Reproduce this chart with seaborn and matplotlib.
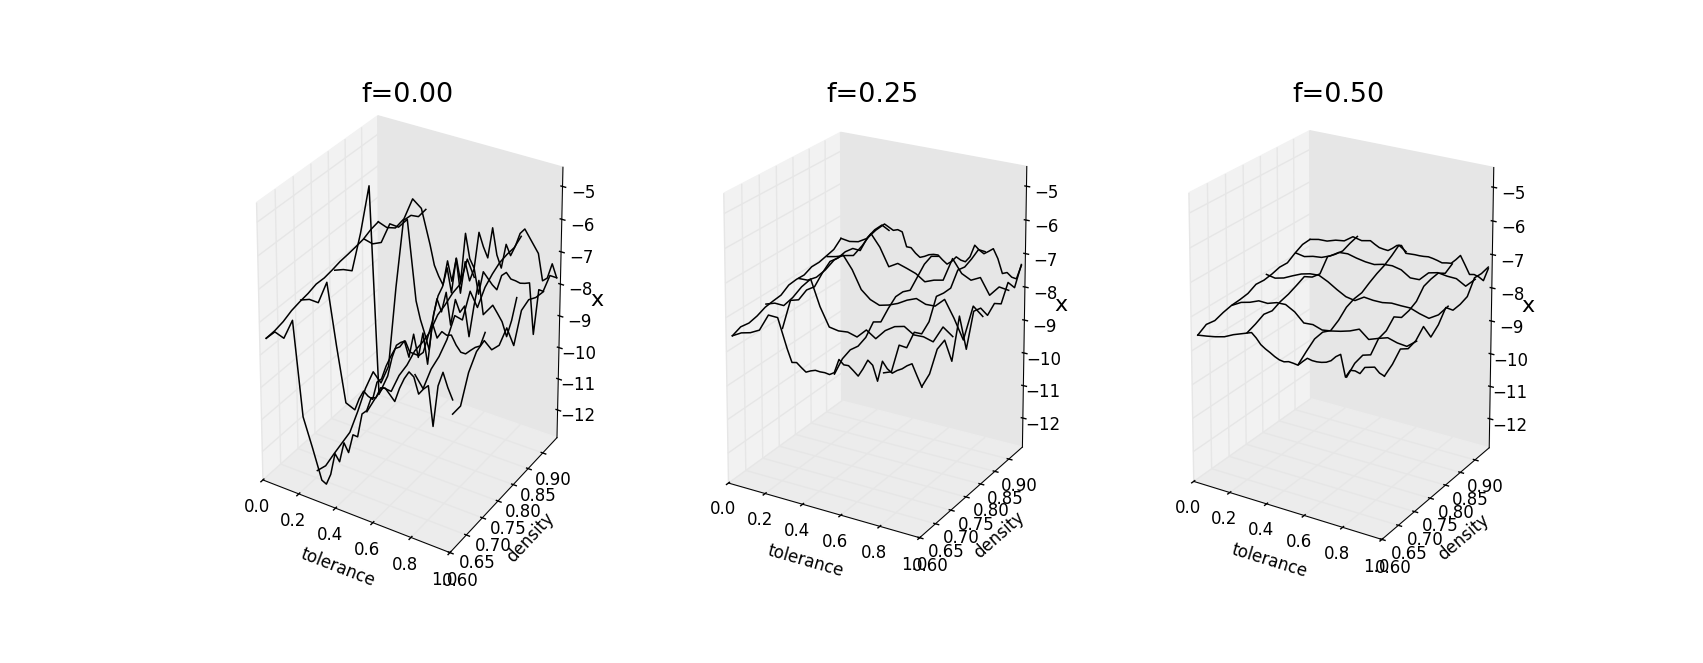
import seaborn as sns
import matplotlib
matplotlib.use("Agg")
import matplotlib.pyplot as plt
from mpl_toolkits.mplot3d import Axes3D

plt.style.use('classic')
sns.set_context("notebook", rc={"font.size": 12, "axes.titlesize": 19.5, "axes.labelsize": 12,
                                "xtick.labelsize": 12, "ytick.labelsize": 12, "lines.linewidth": 1.0})
plt.rcParams['font.family'] = ['DejaVu Sans']
line_color = sns.color_palette(['#000000'])[0]

titles = ['f=0.00', 'f=0.25', 'f=0.50']
elevs = [23.3, 17, 17.5]
azims = [-58.5, -59.8, -58.5]
xticks = [0.0, 0.2, 0.4, 0.6, 0.8, 1.0]
yticks = [0.60, 0.65, 0.70, 0.75, 0.80, 0.85, 0.90]
zticks = [-12, -11, -10, -9, -8, -7, -6, -5]

# wireframe rows and columns
density_rows = [0.6175, 0.715, 0.815, 0.905, 0.95]
tolerance_cols = [0.0, 0.27, 0.54, 0.79, 0.98]
tol_end = 0.98
tol_grid = [0.0, 0.05, 0.1, 0.15, 0.2, 0.25, 0.3, 0.35, 0.4, 0.45, 0.5,
            0.55, 0.6, 0.65, 0.7, 0.75, 0.8, 0.85, 0.9, 0.95, 1.0]
tol_fine = [0.0, 0.05, 0.1, 0.15, 0.2, 0.25, 0.3, 0.325, 0.35, 0.375, 0.4, 0.425, 0.45, 0.475,
            0.5, 0.525, 0.55, 0.575, 0.6, 0.625, 0.65, 0.675, 0.7, 0.725, 0.75, 0.775, 0.8,
            0.825, 0.85, 0.875, 0.9, 0.925, 0.95, 0.975, 1.0]
den_grid = [0.6175, 0.64125, 0.665, 0.68875, 0.7125, 0.73625, 0.76, 0.78375,
            0.8075, 0.83125, 0.855, 0.87875, 0.9025, 0.92625, 0.95]

# f=0.00, one list per density row
rows_f00 = [
    [-8.64, -8.35, -8.45, -7.81, -10.67, -11.53, -12.44, -12.51, -12.15, -11.45, -11.65, -11.01, -11.26,
     -10.66, -10.67, -9.92, -9.77, -9.33, -9.28, -8.93, -8.89, -9.04, -9.19, -8.75, -8.41, -8.16, -8.26,
     -8.72, -8.52, -8.37, -9.53, -8.28, -7.83, -8.23, -8.54],
    [-8.32, -8.21, -8.22, -7.50, -9.37, -11.07, -11.19, -10.79, -10.50, -10.61, -10.66, -10.07, -9.92,
     -9.48, -9.14, -8.84, -8.74, -8.51, -8.96, -8.21, -8.87, -8.08, -8.98, -7.69, -8.09, -7.85, -7.91,
     -7.86, -8.11, -8.28, -8.28, -8.13, -7.99, -7.90, -7.45],
    [-8.24, -8.13, -8.08, -6.82, -5.27, -11.75, -11.06, -10.42, -9.98, -9.84, -9.75, -10.05, -10.06,
     -10.07, -9.92, -9.39, -8.85, -8.10, -8.46, -7.81, -8.78, -7.94, -8.29, -8.05, -8.95, -7.96, -7.13,
     -8.13, -7.94, -7.75, -7.95, -8.16, -8.57, -8.03, -7.29],
    [-7.99, -8.06, -7.93, -7.25, -7.27, -6.94, -9.45, -10.01, -10.42, -10.89, -9.70, -9.06, -8.72, -8.08,
     -8.83, -7.69, -8.75, -7.71, -8.27, -7.84, -8.60, -7.85, -8.01, -8.17, -8.28, -7.79, -7.65, -7.81,
     -7.82, -7.85, -7.81, -7.75, -9.31, -7.87, -7.88],
    [-7.80, -7.90, -7.83, -7.45, -6.73, -6.95, -8.02, -8.64, -8.95, -9.19, -8.37, -8.98, -8.20, -8.91,
     -7.32, -8.08, -8.34, -7.16, -7.57, -7.88, -6.89, -7.70, -8.07, -7.28, -7.59, -7.25, -6.81, -6.63,
     -6.84, -7.05, -7.26, -8.07, -7.94, -7.45, -7.84],
]
# f=0.00, one list per tolerance column
cols_f00 = [
    [-8.64, -8.62, -8.55, -8.42, -8.35, -8.30, -8.21, -8.22, -8.17, -8.10, -8.07, -8.03, -7.98, -7.86, -7.80],
    [-12.19, -12.28, -12.15, -12.04, -11.93, -11.50, -10.99, -10.68, -11.26, -10.94, -8.63, -6.72, -6.75, -6.98, -6.94],
    [-9.80, -9.63, -9.52, -9.86, -9.59, -9.49, -9.27, -9.22, -9.10, -8.79, -8.68, -8.52, -8.45, -7.85, -8.63],
    [-8.18, -8.82, -8.46, -8.30, -8.01, -7.50, -7.84, -7.18, -7.88, -7.47, -7.26, -7.11, -7.06, -7.05, -6.89],
    [-8.96, -8.95, -8.18, -7.78, -7.67, -8.16, -8.24, -7.93, -8.68, -7.82, -7.70, -7.84, -7.88, -7.57, -7.84],
]

rows_f25 = [
    [-8.64, -8.49, -8.42, -8.28, -7.78, -7.79, -8.63, -8.99, -8.96, -9.07, -9.17, -9.10, -9.05, -9.06,
     -9.05, -9.07, -8.98, -8.57, -8.69, -8.68, -8.79, -8.91, -8.67, -8.39, -8.50, -8.92, -8.32, -8.50,
     -8.59, -8.48, -8.40, -8.28, -8.19, -8.49, -8.78],
    [-8.32, -8.23, -8.24, -7.94, -7.56, -7.27, -8.02, -8.56, -8.61, -8.58, -8.66,
     -8.39, -8.58, -8.28, -8.10, -8.03, -8.21, -8.20, -8.28, -7.79, -8.00],
    [-8.16, -8.15, -8.00, -7.72, -7.36, -7.15, -7.53, -8.07, -8.31, -8.42, -8.35,
     -8.24, -8.08, -7.97, -8.08, -8.07, -7.81, -8.30, -8.88, -7.82, -8.06],
    [-8.02, -7.96, -7.87, -7.81, -7.45, -7.02, -7.38, -7.92, -7.76, -7.85, -7.95,
     -8.14, -8.03, -7.97, -7.26, -7.65, -7.79, -7.65, -8.12, -7.81, -7.85],
    [-7.71, -7.75, -7.70, -7.54, -7.23, -6.98, -7.12, -7.07, -7.11, -7.54, -7.54, -7.68, -7.78, -7.72,
     -7.64, -7.60, -7.59, -7.71, -7.81, -7.70, -7.53, -7.60, -7.62, -7.44, -7.06, -7.18, -7.26, -7.16,
     -7.05, -7.32, -7.74, -7.68, -7.79, -7.81, -7.38],
]
cols_f25 = [
    [-8.64, -8.53, -8.57, -8.51, -8.40, -8.36, -8.33, -8.17, -8.14, -8.15, -8.04, -8.04, -7.98, -7.92, -7.71],
    [-8.07, -7.41, -7.54, -7.40, -7.45, -7.19, -6.99, -7.03, -6.98, -7.02, -7.22, -6.96, -6.86, -6.85, -7.15],
    [-9.02, -8.74, -8.64, -8.69, -8.59, -8.29, -8.44, -8.19, -7.99, -7.99, -8.09, -7.84, -7.59, -7.49, -7.63],
    [-8.64, -8.77, -8.17, -8.40, -8.11, -8.31, -8.11, -7.52, -7.57, -7.57, -7.18, -7.23, -7.13, -6.99, -7.19],
    [-8.76, -8.57, -8.03, -7.93, -8.69, -7.55, -8.66, -7.71, -7.77, -8.13, -7.93, -8.09, -7.60, -7.90, -7.35],
]

rows_f50 = [
    [-8.65, -8.61, -8.56, -8.49, -8.36, -8.26, -8.16, -8.28, -8.44, -8.53, -8.60, -8.68, -8.74, -8.76,
     -8.72, -8.73, -8.75, -8.61, -8.48, -8.51, -8.51, -8.49, -8.45, -8.37, -8.22, -8.12, -8.73, -8.50,
     -8.48, -8.52, -8.31, -8.27, -8.23, -8.36, -8.41],
    [-8.39, -8.24, -8.17, -8.06, -8.07, -7.98, -7.97, -8.12, -8.38, -8.36, -8.45,
     -8.41, -8.35, -8.27, -8.15, -8.38, -8.28, -8.19, -8.27, -8.30, -8.08],
    [-8.08, -8.13, -8.06, -7.93, -7.81, -7.74, -7.72, -7.85, -8.02, -8.17, -8.22,
     -8.05, -8.08, -8.08, -8.03, -8.04, -8.04, -8.14, -8.21, -8.04, -7.72],
    [-7.96, -8.01, -7.94, -7.91, -7.80, -7.63, -7.61, -7.68, -7.73, -7.75, -7.68,
     -7.66, -7.72, -7.90, -7.89, -7.62, -7.55, -7.59, -7.60, -7.76, -7.49],
    [-7.80, -7.74, -7.73, -7.64, -7.60, -7.41, -7.47, -7.44, -7.41, -7.49, -7.56, -7.58, -7.59, -7.49,
     -7.37, -7.34, -7.55, -7.54, -7.53, -7.53, -7.52, -7.50, -7.52, -7.55, -7.59, -7.56, -7.54, -7.40,
     -7.24, -7.49, -7.75, -7.72, -7.76, -7.84, -7.45],
]
cols_f50 = [
    [-8.65, -8.49, -8.53, -8.44, -8.38, -8.36, -8.32, -8.19, -8.21, -8.17, -8.10, -8.11, -7.95, -7.82, -7.80],
    [-8.20, -8.10, -7.97, -8.02, -7.90, -7.83, -7.72, -7.60, -7.76, -7.81, -7.43, -7.50, -7.54, -7.44, -7.37],
    [-8.73, -8.51, -8.31, -8.27, -8.38, -8.23, -8.00, -7.90, -7.87, -7.72, -7.59, -7.49, -7.34, -7.16, -7.50],
    [-8.72, -8.49, -8.42, -8.57, -8.26, -8.19, -7.94, -8.11, -8.06, -7.94, -7.64, -7.57, -7.54, -7.69, -7.55],
    [-8.41, -8.24, -7.97, -8.12, -8.05, -7.80, -8.26, -8.06, -7.71, -7.94, -7.92, -7.84, -7.43, -7.45, -7.40],
]

all_rows = [rows_f00, rows_f25, rows_f50]
all_cols = [cols_f00, cols_f25, cols_f50]

fig = plt.figure(figsize=(17.03, 6.63), dpi=100, facecolor='white')
for i in range(3):
    ax = fig.add_subplot(1, 3, i + 1, projection='3d')
    # old mplot3d stretched the box to fill the subplot
    pos = ax.get_position(original=True)
    ax.apply_aspect = lambda position=None, a=ax, p=pos: a._set_position(p, 'active')
    ax.set_box_aspect((1, 1, 1), zoom=0.945)
    ax.view_init(elev=elevs[i], azim=azims[i])
    for j in range(5):
        row = all_rows[i][j]
        grid = tol_fine if len(row) == len(tol_fine) else tol_grid
        tols = [t * tol_end for t in grid]
        ax.plot(tols, [density_rows[j]] * len(tols), row, color=line_color, lw=1.1)
        ax.plot([tolerance_cols[j]] * len(den_grid), den_grid, all_cols[i][j], color=line_color, lw=1.1)
    ax.set_xlim(0, 1)
    ax.set_ylim(0.6, 0.95)
    ax.set_zlim(-12.9, -4.42)
    ax.set_xticks(xticks)
    ax.set_yticks(yticks)
    ax.set_zticks(zticks)
    ax.set_yticklabels(['%.2f' % v for v in yticks])
    ax.tick_params(axis='x', pad=0)
    ax.tick_params(axis='y', pad=1.5)
    ax.xaxis.set_pane_color((0.95, 0.95, 0.95, 1.0))
    ax.yaxis.set_pane_color((0.90, 0.90, 0.90, 1.0))
    ax.zaxis.set_pane_color((0.925, 0.925, 0.925, 1.0))
    ax.set_xlabel('tolerance', labelpad=2)
    ax.set_ylabel('density', labelpad=2)
    ax.set_zlabel('x', fontsize=16, labelpad=1)
    ax.set_title(titles[i], y=1.0)
fig.savefig('out.png', dpi=100, facecolor='white')
